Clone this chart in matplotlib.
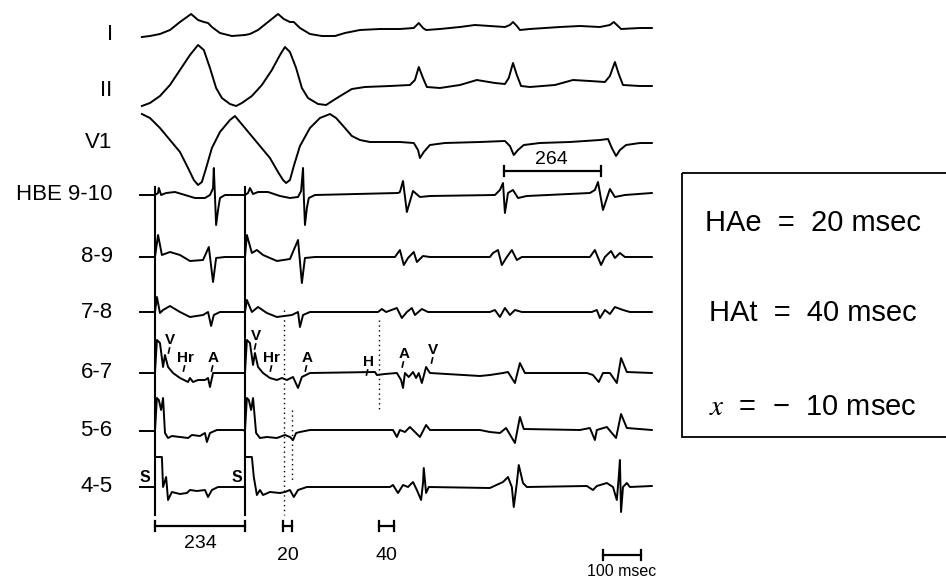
import matplotlib.pyplot as plt
import numpy as np
from matplotlib.patches import Rectangle

plt.rcParams['font.family'] = ['Liberation Sans', 'DejaVu Sans']
plt.rcParams['mathtext.fontset'] = 'stix'

# time in msec from first stimulus (S), amplitude in arbitrary units (up positive)
lead_I_t = [-34, -13, 13, 39, 65, 94, 112, 127, 138, 148, 169, 200, 234, 247, 268, 294, 320, 335, 351, 361,
            377, 403, 434, 468, 494, 533, 585, 637, 673, 686, 697, 705, 741, 793, 832, 871, 910, 923, 931, 941,
            949, 975, 1053, 1105, 1157, 1183, 1193, 1204, 1212, 1261, 1292]
lead_I_v = [-2, -1, 1, 5, 13, 21, 15, 13, 12, 8, 2, -1, 0, 1, 5, 13, 21, 16, 13, 13,
            7, 1, -1, -1, 2, 5, 6, 6, 7, 12, 7, 5, 6, 8, 10, 9, 8, 10, 13, 9,
            5, 6, 8, 9, 8, 10, 13, 9, 6, 7, 7]

lead_II_t = [-34, -13, 13, 39, 65, 91, 112, 127, 143, 159, 174, 195, 211, 226, 252, 278, 304, 325, 338, 351,
             367, 382, 398, 424, 445, 465, 486, 512, 546, 611, 663, 676, 686, 697, 707, 741, 793, 837, 884, 910,
             920, 931, 941, 952, 975, 1040, 1087, 1131, 1170, 1183, 1196, 1206, 1217, 1261, 1292]
lead_II_v = [-16, -13, -6, 5, 20, 35, 45, 40, 22, 2, -8, -14, -16, -13, -6, 5, 20, 35, 43, 38,
             22, 2, -8, -14, -15, -10, -5, 1, 3, 4, 5, 10, 23, 12, 3, 2, 5, 10, 7, 6,
             12, 27, 15, 4, 3, 5, 10, 9, 8, 14, 28, 16, 5, 4, 4]

lead_V1_t = [-34, -13, 13, 39, 65, 86, 101, 112, 122, 133, 148, 169, 195, 208, 221, 247, 273, 299, 320, 333,
             341, 351, 361, 377, 403, 429, 455, 471, 494, 512, 533, 559, 637, 673, 684, 689, 699, 715, 754, 845,
             910, 923, 933, 944, 959, 1001, 1079, 1157, 1178, 1188, 1199, 1209, 1225, 1261, 1292]
lead_V1_v = [28, 24, 14, 2, -10, -26, -38, -43, -40, -26, -6, 10, 22, 26, 20, 8, -4, -16, -30, -38,
             -41, -38, -24, -4, 14, 24, 28, 24, 14, 6, 2, 0, 0, -1, -8, -16, -10, -3, -1, 0,
             1, -4, -13, -8, -3, -1, 0, 2, 3, -6, -14, -8, -3, -1, -1]

hbe910_t = [-39, 0, 8, 10, 16, 29, 52, 78, 104, 130, 143, 148, 151, 153, 156, 159, 164, 169, 182, 234,
            242, 247, 255, 268, 294, 325, 351, 372, 380, 385, 387, 390, 395, 400, 416, 632, 637, 645, 655, 671,
            689, 715, 884, 897, 905, 910, 918, 931, 944, 967, 1131, 1144, 1152, 1165, 1183, 1196, 1222, 1292]
hbe910_v = [0, 0, 2, 7, 0, 2, 3, 0, -3, -3, 0, 4, 7, 27, -1, -30, -15, -3, 0, 0,
            2, 7, 1, 3, 3, -1, -3, -2, 4, 27, -1, -30, -13, -3, 0, 2, 3, 14, -17, 4,
            -2, -1, 0, 5, 12, -18, 2, 5, -3, -1, 2, 5, 13, -15, 6, -2, 0, 2]

hbe89_t = [-39, 0, 8, 18, 39, 65, 91, 125, 140, 151, 159, 182, 234, 239, 252, 265, 281, 317, 351, 372,
           382, 390, 416, 624, 637, 647, 658, 673, 681, 697, 715, 871, 879, 892, 902, 915, 928, 941, 954, 1131,
           1144, 1160, 1170, 1186, 1196, 1209, 1222, 1292]
hbe89_v = [0, 0, 22, 2, 5, 2, -4, -3, 10, -25, -1, 0, 0, 22, 4, 7, 2, -4, -2, 17,
           -26, -1, 0, 0, 7, -8, -1, 5, -5, 1, 0, 0, 4, 7, -8, 0, 7, -3, 0, 0,
           7, -8, 0, 6, -1, 4, 0, 0]

hbe78_t = [-39, 0, 5, 13, 21, 39, 65, 91, 125, 138, 146, 153, 169, 234, 239, 252, 268, 291, 317, 356,
           372, 377, 385, 403, 580, 590, 601, 629, 642, 655, 668, 676, 694, 710, 871, 884, 897, 910, 923, 936,
           954, 1136, 1149, 1157, 1170, 1183, 1196, 1217, 1235, 1292]
hbe78_v = [0, 0, 15, -1, 2, 6, 0, -5, -3, 0, -14, -3, 0, 0, 12, 0, 5, -1, -5, -3,
           0, -15, -3, 0, 0, 3, 0, 4, -6, 0, 4, -3, 3, 0, 0, 2, -5, 4, -3, 2,
           0, 0, 2, -6, 2, -2, 5, 2, 0, 0]

hbe67_t = [-39, 0, 5, 13, 21, 26, 34, 47, 65, 86, 91, 99, 112, 130, 138, 143, 151, 169, 234, 239,
           247, 255, 260, 268, 281, 299, 317, 330, 343, 359, 372, 382, 403, 572, 577, 598, 629, 640, 645, 650,
           660, 671, 679, 686, 694, 705, 715, 845, 871, 905, 918, 936, 949, 962, 1123, 1139, 1154, 1165, 1183,
           1201, 1212, 1227, 1292]
hbe67_v = [0, 0, 33, 30, 6, 18, 6, 0, -5, -9, -5, -9, -7, -7, -5, -14, 0, 0, 0, 33,
           30, 8, 20, 6, 0, -5, -7, -5, -7, -4, -15, -4, 0, 1, -2, -1, 0, -7, -15, 0,
           -4, 1, -5, 0, -10, 6, 0, -3, -2, 0, 1, -10, 10, 0, 0, -2, -9, 0, 0,
           -10, 15, 1, 0]

hbe56_t = [-39, 0, 5, 10, 16, 21, 26, 34, 44, 65, 86, 96, 117, 130, 135, 143, 161, 229, 234, 239,
           244, 250, 255, 263, 273, 291, 317, 338, 351, 359, 367, 377, 403, 619, 629, 637, 650, 663, 676, 689,
           705, 715, 845, 871, 897, 913, 936, 949, 959, 1105, 1131, 1144, 1149, 1175, 1199, 1212, 1227, 1292]
hbe56_v = [0, 0, 33, 31, 21, 33, -2, -7, -5, -6, -7, -4, -5, -2, -11, -2, 1, 1, 0, 33,
           31, 21, 33, -2, -7, -6, -7, -4, -6, -9, -2, -1, 1, 1, -6, 1, -1, 4, -1, -6,
           6, 1, 1, -1, -2, 3, -12, 14, 2, 1, 3, -9, 1, 4, -7, 17, 3, 1]

hbe45_t = [-39, 0, 0, 18, 21, 29, 34, 44, 65, 83, 91, 109, 130, 138, 148, 164, 234, 234, 252, 257,
           265, 273, 281, 299, 325, 338, 351, 361, 372, 395, 611, 619, 632, 645, 658, 671, 681, 692, 697, 699,
           705, 712, 871, 905, 918, 928, 933, 941, 946, 957, 967, 1123, 1139, 1149, 1175, 1191, 1201, 1206,
           1209, 1212, 1217, 1227, 1235, 1292]
hbe45_v = [0, 0, 30, 30, 0, 10, -13, -5, -7, -6, -3, -4, -3, -10, -3, 0, 0, 30, 30, 10,
           -8, -3, -8, -5, -6, -5, -3, -10, -3, 0, 0, 2, -6, 2, 0, 5, -3, -13, 4, 19,
           -6, 0, -1, 5, 10, 0, -20, 4, 22, 4, 0, 1, -3, 1, 4, 0, -13, 10,
           27, -25, 0, 4, 0, 1]

traces = [(lead_I_t, lead_I_v), (lead_II_t, lead_II_v), (lead_V1_t, lead_V1_v),
          (hbe910_t, hbe910_v), (hbe89_t, hbe89_v), (hbe78_t, hbe78_v),
          (hbe67_t, hbe67_v), (hbe56_t, hbe56_v), (hbe45_t, hbe45_v)]
trace_labels = ["I", "II", "V1", "HBE 9-10", "8-9", "7-8", "6-7", "5-6", "4-5"]
baselines = [35, 90, 142, 195, 257, 312, 373, 431, 487]

stim_times = [0, 234]
cycle_264 = [907, 1160]
dotted_times = [335, 356, 582]
dotted_spans = [(310, 515), (410, 480), (320, 410)]

# event labels on the 6-7 channel
event_names = ["V", "Hr", "A", "V", "Hr", "A", "H", "A", "V"]
event_times = [39, 78, 151, 263, 304, 395, 554, 647, 723]
event_rows = [340, 358, 358, 336, 358, 358, 362, 354, 350]

interval_names = ["234", "20", "40"]
interval_spans = [(0, 234), (333, 356), (582, 621)]

fig = plt.figure(figsize=(9.46, 5.79), dpi=100)
ax = fig.add_axes([0, 0, 1, 1])
ax.set_xlim(-403, 2057)
ax.set_ylim(579, 0)
ax.axis('off')

for (t, v), base, lab in zip(traces, baselines, trace_labels):
    ax.plot(t, base - np.array(v), color='black', lw=1.4, solid_joinstyle='round')
    ax.text(-110, base, lab, ha='right', va='center', fontsize=16)

# stimulus artefacts
for s in stim_times:
    ax.plot([s, s], [187, 515], color='black', lw=1.5)

# dotted timing lines
for d, (y0, y1) in zip(dotted_times, dotted_spans):
    ax.plot([d, d], [y0, y1], color='black', lw=1.0, ls=(0, (1, 2.5)))

for name, t, y in zip(event_names, event_times, event_rows):
    ax.text(t, y, name, ha='center', va='center', fontsize=11, fontweight='bold')
    ax.plot([t - 1, t - 4], [y + 8, y + 13], color='black', lw=1.2)

ax.text(-26, 477, "S", ha='center', va='center', fontsize=11.5, fontweight='bold')
ax.text(213, 477, "S", ha='center', va='center', fontsize=11.5, fontweight='bold')

def hbar(t0, t1, y):
    ax.plot([t0, t1], [y, y], color='black', lw=1.6)
    ax.plot([t0, t0], [y - 5, y + 5], color='black', lw=1.6)
    ax.plot([t1, t1], [y - 5, y + 5], color='black', lw=1.6)

for name, (t0, t1) in zip(interval_names, interval_spans):
    hbar(t0, t1, 526)
ax.text(117, 543, "234", ha='center', va='center', fontsize=14)
ax.text(346, 555, "20", ha='center', va='center', fontsize=14)
ax.text(603, 555, "40", ha='center', va='center', fontsize=14)

hbar(cycle_264[0], cycle_264[1], 171)
ax.text(1032, 159, "264", ha='center', va='center', fontsize=14)

hbar(1165, 1265, 555)
ax.text(1214, 571, "100 msec", ha='center', va='center', fontsize=11.5)

ax.add_patch(Rectangle((1370, 173), 800, 264, fill=False, lw=1.3, edgecolor='black'))
ax.text(1711, 223, "HAe  =  20 msec", ha='center', va='center', fontsize=21)
ax.text(1711, 313, "HAt  =  40 msec", ha='center', va='center', fontsize=21)
ax.text(1711, 407, r"$x$  =  −  10 msec", ha='center', va='center', fontsize=21)

fig.savefig("out.png", dpi=100)
